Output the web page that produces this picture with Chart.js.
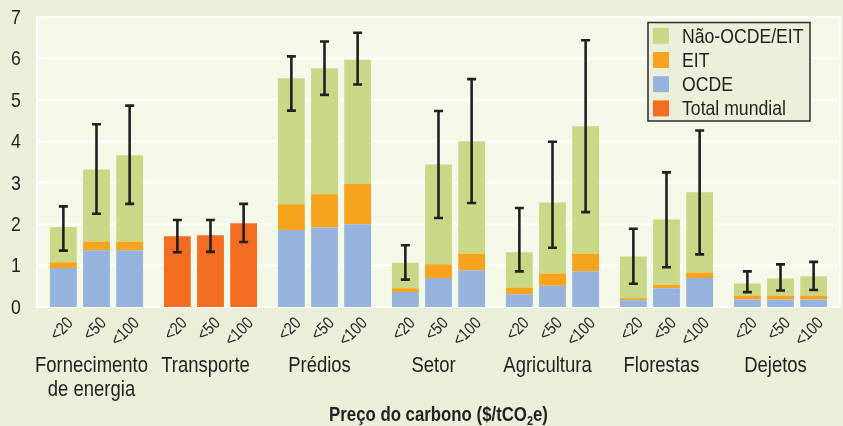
<!DOCTYPE html>
<html>
<head>
<meta charset="utf-8">
<script src="https://cdn.jsdelivr.net/npm/chart.js@4/dist/chart.umd.min.js"></script>
<style>
  html, body { margin: 0; padding: 0; background: #ebeed9; }
  #c { display: block; }
</style>
</head>
<body>
<canvas id="c" width="843" height="426"></canvas>
<script>
// Sectors and carbon price levels
const sectors = [['Fornecimento', 'de energia'], 'Transporte', 'Prédios', 'Setor', 'Agricultura', 'Florestas', 'Dejetos'];
const priceLabels = ['<20', '<50', '<100'];

// Segment values per price level (GtCO2-eq), one entry per sector
const ocde20   = [0.94, null, 1.86, 0.36, 0.31, 0.16, 0.18];
const ocde50   = [1.37, null, 1.92, 0.70, 0.51, 0.45, 0.18];
const ocde100  = [1.37, null, 2.00, 0.89, 0.86, 0.70, 0.18];
const eit20    = [0.14, null, 0.62, 0.09, 0.16, 0.05, 0.10];
const eit50    = [0.21, null, 0.80, 0.33, 0.30, 0.09, 0.10];
const eit100   = [0.21, null, 0.97, 0.40, 0.43, 0.13, 0.10];
const naoOcde20  = [0.85, null, 3.04, 0.62, 0.85, 1.01, 0.29];
const naoOcde50  = [1.74, null, 3.04, 2.41, 1.71, 1.57, 0.41];
const naoOcde100 = [2.08, null, 3.00, 2.71, 3.07, 1.94, 0.46];
const mundial20  = [null, 1.71, null, null, null, null, null];
const mundial50  = [null, 1.73, null, null, null, null, null];
const mundial100 = [null, 2.02, null, null, null, null, null];

// Uncertainty ranges (low, high) per price level
const rangeLow20   = [1.36, 1.32, 4.74, 0.66, 0.86, 0.56, 0.36];
const rangeHigh20  = [2.43, 2.10, 6.05, 1.49, 2.39, 1.89, 0.86];
const rangeLow50   = [2.25, 1.33, 5.12, 2.15, 1.43, 0.96, 0.40];
const rangeHigh50  = [4.41, 2.10, 6.41, 4.73, 3.99, 3.25, 1.03];
const rangeLow100  = [2.49, 1.57, 5.37, 2.51, 2.29, 1.27, 0.41];
const rangeHigh100 = [4.86, 2.49, 6.62, 5.50, 6.44, 4.26, 1.09];

const yTicks = [0, 1, 2, 3, 4, 5, 6, 7];

const COLORS = {
  ocde: '#95b3dd',
  eit: '#f6a31e',
  nao: '#c8d886',
  mundial: '#f26d21',
  ink: '#231f20',
  plotBg: '#f4f8e9',
  outerBg: '#ebeed9'
};
const FONT = '"Liberation Sans", Arial, sans-serif';
const NARROW = 0.84;   // horizontal squeeze for a condensed look
const FRAME_GAP = 2.5; // white frame sits slightly outside the bar area

const ocde = [ocde20, ocde50, ocde100];
const eit = [eit20, eit50, eit100];
const nao = [naoOcde20, naoOcde50, naoOcde100];
const mundial = [mundial20, mundial50, mundial100];
const lows = [rangeLow20, rangeLow50, rangeLow100];
const highs = [rangeHigh20, rangeHigh50, rangeHigh100];

const datasets = [];
priceLabels.forEach((p, i) => {
  const stack = 'p' + i;
  datasets.push({ label: 'OCDE', data: ocde[i], backgroundColor: COLORS.ocde, stack, price: i });
  datasets.push({ label: 'EIT', data: eit[i], backgroundColor: COLORS.eit, stack, price: i });
  datasets.push({ label: 'Não-OCDE/EIT', data: nao[i], backgroundColor: COLORS.nao, stack, price: i });
  datasets.push({ label: 'Total mundial', data: mundial[i], backgroundColor: COLORS.mundial, stack, price: i });
});

const legendItems = [
  { label: 'Não-OCDE/EIT', color: COLORS.nao },
  { label: 'EIT', color: COLORS.eit },
  { label: 'OCDE', color: COLORS.ocde },
  { label: 'Total mundial', color: COLORS.mundial }
];

// Draw text squeezed horizontally
function narrowText(ctx, text, x, y, align, font) {
  ctx.save();
  ctx.font = font;
  ctx.translate(x, y);
  ctx.scale(NARROW, 1);
  ctx.textAlign = align;
  ctx.fillText(text, 0, 0);
  ctx.restore();
}

// Plot-area background, horizontal gridlines and white frame
const plotBackground = {
  id: 'plotBackground',
  beforeDatasetsDraw(chart) {
    const { ctx, chartArea: a, scales: { y } } = chart;
    const l = a.left - FRAME_GAP, r = a.right + FRAME_GAP;
    ctx.save();
    ctx.fillStyle = COLORS.plotBg;
    ctx.fillRect(l, a.top, r - l, a.bottom - a.top);
    ctx.strokeStyle = '#ffffff';
    ctx.lineWidth = 2;
    yTicks.forEach(v => {
      const py = y.getPixelForValue(v);
      ctx.beginPath();
      ctx.moveTo(l, py);
      ctx.lineTo(r, py);
      ctx.stroke();
    });
    ctx.strokeRect(l, a.top, r - l, a.bottom - a.top);
    ctx.restore();
  }
};

// x position of the bar for a given sector and price level
function barX(chart, sectorIdx, priceIdx) {
  for (let d = 0; d < chart.data.datasets.length; d++) {
    const ds = chart.data.datasets[d];
    if (ds.price !== priceIdx) continue;
    if (ds.data[sectorIdx] == null) continue;
    const el = chart.getDatasetMeta(d).data[sectorIdx];
    if (el) return el.x;
  }
  return null;
}

// Error bars, axis labels and title
const rangesAndLabels = {
  id: 'rangesAndLabels',
  afterDatasetsDraw(chart) {
    const { ctx, scales: { y } } = chart;
    ctx.save();
    ctx.strokeStyle = COLORS.ink;
    ctx.lineWidth = 2.6;
    for (let s = 0; s < sectors.length; s++) {
      for (let p = 0; p < priceLabels.length; p++) {
        const x = barX(chart, s, p);
        if (x == null) continue;
        const yl = y.getPixelForValue(lows[p][s]);
        const yh = y.getPixelForValue(highs[p][s]);
        const cap = 4.5;
        ctx.beginPath();
        ctx.moveTo(x, yl); ctx.lineTo(x, yh);
        ctx.moveTo(x - cap, yl); ctx.lineTo(x + cap, yl);
        ctx.moveTo(x - cap, yh); ctx.lineTo(x + cap, yh);
        ctx.stroke();
      }
    }
    ctx.restore();
  },
  afterDraw(chart) {
    const { ctx, chartArea: a, scales: { x, y } } = chart;
    ctx.save();
    ctx.fillStyle = COLORS.ink;

    // y tick labels
    ctx.textBaseline = 'middle';
    yTicks.forEach(v => narrowText(ctx, String(v), 16, y.getPixelForValue(v) + 1, 'center', '21px ' + FONT));

    // rotated price labels under each bar
    ctx.textBaseline = 'alphabetic';
    ctx.font = '17px ' + FONT;
    ctx.textAlign = 'right';
    for (let s = 0; s < sectors.length; s++) {
      for (let p = 0; p < priceLabels.length; p++) {
        const bx = barX(chart, s, p);
        if (bx == null) continue;
        ctx.save();
        ctx.translate(bx + 10.5, a.bottom + 17);
        ctx.rotate(-Math.PI / 4);
        ctx.scale(NARROW, 1);
        ctx.fillText(priceLabels[p], 0, 0);
        ctx.restore();
      }
    }

    // sector names
    sectors.forEach((name, i) => {
      const cx = x.getPixelForValue(i) - 5;
      const lines = Array.isArray(name) ? name : [name];
      lines.forEach((ln, k) => narrowText(ctx, ln, cx, 372 + k * 24, 'center', '22px ' + FONT));
    });

    // axis title with subscript
    const cx = (a.left + a.right) / 2;
    const yT = 421;
    const parts = [
      { t: 'Preço do carbono ($/tCO', f: 'bold 20px ' + FONT, dy: 0 },
      { t: '2', f: 'bold 13px ' + FONT, dy: 4 },
      { t: 'e)', f: 'bold 20px ' + FONT, dy: 0 }
    ];
    let total = 0;
    parts.forEach(pt => { ctx.font = pt.f; pt.w = ctx.measureText(pt.t).width * NARROW; total += pt.w; });
    let xx = cx - total / 2;
    parts.forEach(pt => { narrowText(ctx, pt.t, xx, yT + pt.dy, 'left', pt.f); xx += pt.w; });
    ctx.restore();
  }
};

// Legend box inside the plot area
const boxLegend = {
  id: 'boxLegend',
  afterDraw(chart) {
    const { ctx } = chart;
    const bx = 648, by = 22.5, bw = 162, bh = 98.5;
    ctx.save();
    ctx.fillStyle = COLORS.outerBg;
    ctx.fillRect(bx, by, bw, bh);
    ctx.strokeStyle = '#2b2b2b';
    ctx.lineWidth = 1.5;
    ctx.strokeRect(bx, by, bw, bh);
    ctx.textBaseline = 'middle';
    legendItems.forEach((it, i) => {
      const cy = 35.8 + i * 24.2;
      ctx.fillStyle = it.color;
      ctx.fillRect(653, cy - 8, 16, 16);
      ctx.fillStyle = COLORS.ink;
      narrowText(ctx, it.label, 682, cy + 1, 'left', '21px ' + FONT);
    });
    ctx.restore();
  }
};

new Chart(document.getElementById('c'), {
  type: 'bar',
  data: { labels: sectors, datasets },
  options: {
    responsive: false,
    animation: false,
    devicePixelRatio: 1,
    layout: { padding: { top: 17, right: 3 + FRAME_GAP, left: 0, bottom: 0 } },
    datasets: { bar: { categoryPercentage: 0.872, barPercentage: 0.81 } },
    plugins: { legend: { display: false }, tooltip: { enabled: false } },
    scales: {
      x: {
        stacked: true,
        grid: { display: false },
        border: { display: false },
        ticks: { display: false },
        afterFit(scale) { scale.height = 119; }
      },
      y: {
        stacked: true,
        min: 0,
        max: 7,
        afterBuildTicks(scale) { scale.ticks = yTicks.map(v => ({ value: v })); },
        grid: { display: false },
        border: { display: false },
        ticks: { display: false },
        afterFit(scale) { scale.width = 37 + FRAME_GAP; }
      }
    }
  },
  plugins: [plotBackground, rangesAndLabels, boxLegend]
});
</script>
</body>
</html>
